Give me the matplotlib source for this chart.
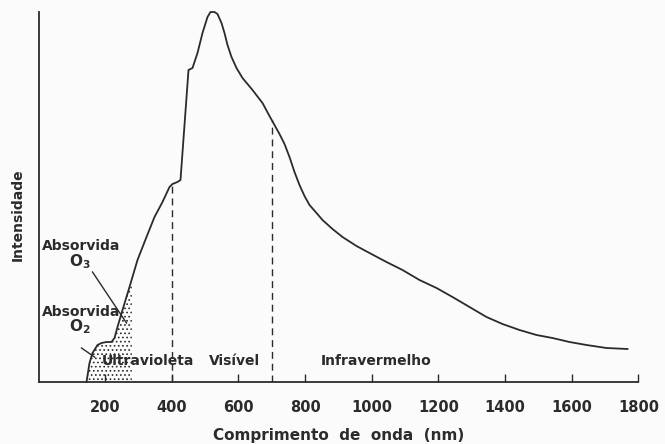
import matplotlib
matplotlib.use("Agg")
import matplotlib.pyplot as plt
import numpy as np

plt.rcParams['font.family'] = ['DejaVu Sans']
plt.rcParams['mathtext.default'] = 'regular'
plt.rcParams['hatch.linewidth'] = 0.7

# Solar spectral intensity (arbitrary units) vs wavelength (nm)
wavelength = [144, 153, 162, 177, 189, 204, 219, 228, 237, 252, 273, 297, 324,
              348, 372, 393, 402, 417, 426, 450, 462, 477, 492, 507, 516, 528,
              537, 549, 558, 567, 579, 594, 612, 642, 672, 693, 708, 723, 738,
              753, 768, 783, 798, 813, 834, 852, 882, 912, 954, 993, 1044,
              1092, 1143, 1194, 1242, 1293, 1344, 1392, 1443, 1494, 1542,
              1593, 1644, 1704, 1767]
intensity = [0, 19, 29, 37, 39, 40, 40, 44, 55, 72, 95, 122, 145,
             165, 180, 195, 198, 200, 202, 312, 314, 329, 349, 365, 370, 370,
             368, 359, 349, 337, 325, 314, 304, 292, 279, 266, 257, 248, 238,
             225, 210, 197, 186, 177, 169, 162, 153, 145, 136, 129, 120,
             112, 102, 94, 85, 75, 65, 58, 52, 47, 44,
             40, 37, 34, 33]

# Band limits and the absorbed UV portion
band_edges = [400, 700]
absorbed_end = 280

xticks = [200, 400, 600, 800, 1000, 1200, 1400, 1600, 1800]
xlabel = "Comprimento  de  onda  (nm)"
ylabel = "Intensidade"
band_names = ["Ultravioleta", "Visível", "Infravermelho"]
band_label_x = [327, 588, 1014]

ink = '#2b2b2b'
bg = '#fbfbfb'

fig = plt.figure(figsize=(6.65, 4.44), dpi=100, facecolor=bg)
W, H = 665, 444
ax = fig.add_axes([38.5 / W, (H - 382) / H, 600 / W, (382 - 12) / H])
ax.set_facecolor(bg)

wl = np.array(wavelength, dtype=float)
it = np.array(intensity, dtype=float)

ax.plot(wl, it, color=ink, lw=1.3, clip_on=False, solid_joinstyle='round')

# Stippled absorbed region under the curve
mask = wl <= absorbed_end
xs = np.append(wl[mask], absorbed_end)
ys = np.append(it[mask], np.interp(absorbed_end, wl, it))
ax.fill_between(xs, 0, ys, facecolor='none', edgecolor=ink, hatch='....',
                linewidth=0)

# Dashed band boundaries
for e in band_edges:
    ax.plot([e, e], [0, np.interp(e, wl, it)], color=ink, lw=1.0,
            ls=(0, (5, 3.5)))

ax.set_xlim(0, 1800)
ax.set_ylim(0, 370)

for s in ['top', 'right']:
    ax.spines[s].set_visible(False)
for s in ['left', 'bottom']:
    ax.spines[s].set_color(ink)
    ax.spines[s].set_linewidth(1.3)

ax.set_xticks(xticks)
ax.set_xticklabels([str(v) for v in xticks])
ax.tick_params(axis='x', direction='in', length=6, width=1.0, color=ink,
               pad=13, labelsize=10.5, labelcolor=ink)
for lbl in ax.get_xticklabels():
    lbl.set_fontweight('bold')
ax.set_yticks([])

ax.set_xlabel(xlabel, fontsize=11, fontweight='bold', color=ink, labelpad=9)
ax.set_ylabel(ylabel, fontsize=10, fontweight='bold', color=ink)
ax.yaxis.set_label_coords(-0.023, 0.451)

tk = dict(fontsize=10, fontweight='bold', color=ink, ha='center', va='center')
for name, x in zip(band_names, band_label_x):
    ax.text(x, 21, name, **tk)

ax.text(129, 136, "Absorvida", **tk)
ax.text(125, 120, r"O$_{\mathbf{3}}$", fontsize=11, fontweight='bold',
        color=ink, ha='center', va='center')
ax.text(129, 70, "Absorvida", **tk)
ax.text(125, 55, r"O$_{\mathbf{2}}$", fontsize=11, fontweight='bold',
        color=ink, ha='center', va='center')

ax.plot([162, 264], [110, 59], color=ink, lw=1.0)
ax.plot([129, 168], [34, 25], color=ink, lw=1.0)

fig.savefig("out.png", dpi=100, facecolor=bg)
